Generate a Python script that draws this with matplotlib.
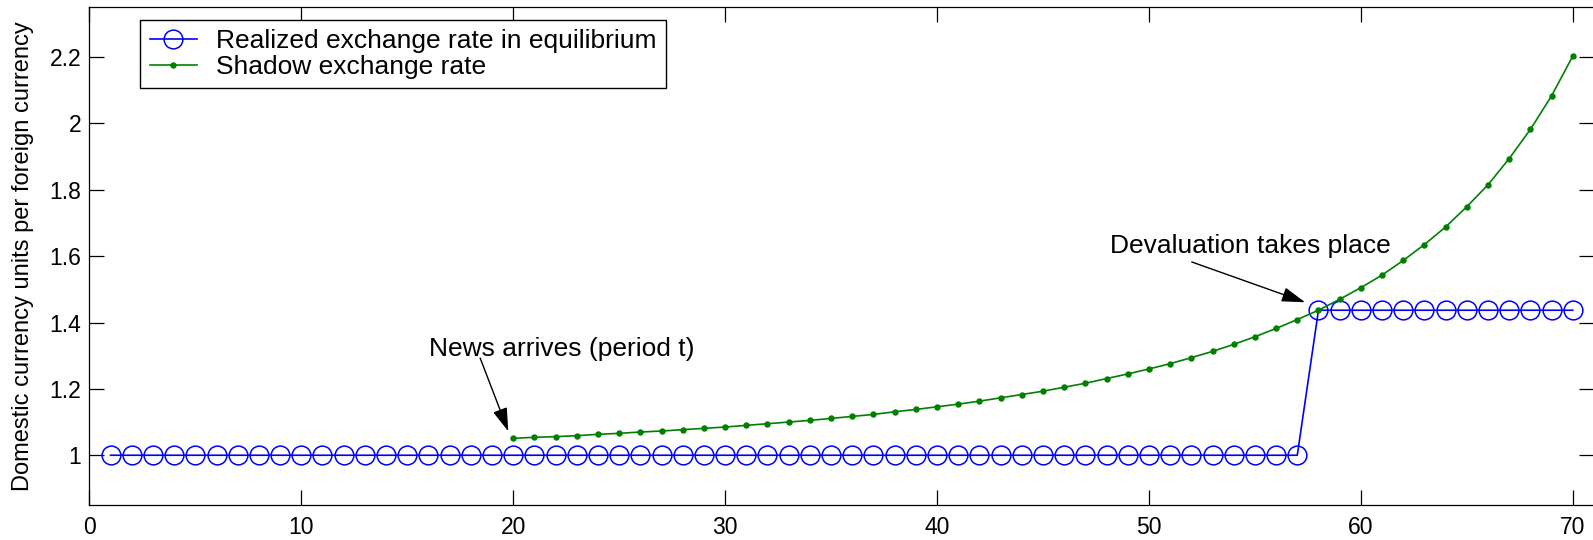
import numpy as np
import matplotlib.pyplot as plt

plt.rcParams['font.family'] = ['Liberation Sans', 'DejaVu Sans']

# Realized exchange rate (periods 1..70)
periods = np.arange(1, 71)
realized = [1.0] * 57 + [1.437] * 13

# Shadow exchange rate, from the news period (20) onward
shadow_periods = np.arange(20, 71)
shadow = [1.051, 1.054, 1.056, 1.059, 1.063, 1.066, 1.070, 1.073, 1.077, 1.081,
          1.085, 1.090, 1.095, 1.100, 1.105, 1.111, 1.117, 1.123, 1.131, 1.138,
          1.146, 1.154, 1.163, 1.173, 1.183, 1.193, 1.205, 1.217, 1.231, 1.245,
          1.260, 1.276, 1.294, 1.313, 1.334, 1.357, 1.382, 1.409, 1.437, 1.470,
          1.505, 1.543, 1.587, 1.635, 1.688, 1.749, 1.815, 1.894, 1.982, 2.083,
          2.203]

x_ticks = [0, 10, 20, 30, 40, 50, 60, 70]
y_ticks = [1, 1.2, 1.4, 1.6, 1.8, 2.0, 2.2]
y_ticklabels = ['1', '1.2', '1.4', '1.6', '1.8', '2', '2.2']

fig = plt.figure(figsize=(15.93, 5.40), dpi=100)
ax = fig.add_axes([0.0561, 0.0648, 0.9445, 0.9217])

ax.plot(periods, realized, color='blue', lw=1.2, marker='o', ms=13.5,
        mfc='none', mec='blue', mew=1.1, label='Realized exchange rate in equilibrium')
ax.plot(shadow_periods, shadow, color='#008000', lw=1.2, marker='o', ms=3.6,
        mfc='#008000', mec='#008000', label='Shadow exchange rate')

ax.set_xlim(0, 71)
ax.set_ylim(0.85, 2.35)
ax.set_xticks(x_ticks)
ax.set_yticks(y_ticks)
ax.set_yticklabels(y_ticklabels)
ax.tick_params(direction='in', length=11, width=0.9, top=True, right=True,
               labelsize=16.5)
ax.tick_params(axis='x', pad=8)
ax.tick_params(axis='y', pad=6)
for s in ax.spines.values():
    s.set_linewidth(0.9)

ax.set_ylabel('Domestic currency units per foreign currency', fontsize=17)
ax.yaxis.set_label_coords(-0.0367, 0.5)

ax.legend(loc='upper left', bbox_to_anchor=(0.0337, 0.9745), borderaxespad=0,
          fontsize=19, fancybox=False, edgecolor='black', framealpha=1,
          handlelength=1.8, handletextpad=0.7, labelspacing=0.05, borderpad=0.36)

# annotations
ax.text(16.03, 1.298, 'News arrives (period t)', fontsize=19, va='baseline', ha='left')
ax.annotate('', xy=(19.77, 1.072), xytext=(18.44, 1.293),
            arrowprops=dict(arrowstyle='-|>,head_length=0.8,head_width=0.25',
                            mutation_scale=18, color='black', lw=1,
                            shrinkA=0, shrinkB=0))
ax.text(48.17, 1.6105, 'Devaluation takes place', fontsize=19, va='baseline', ha='left')
ax.annotate('', xy=(57.37, 1.461), xytext=(52.02, 1.5825),
            arrowprops=dict(arrowstyle='-|>,head_length=0.8,head_width=0.25',
                            mutation_scale=18, color='black', lw=1,
                            shrinkA=0, shrinkB=0))

fig.savefig('out.png', dpi=100)
